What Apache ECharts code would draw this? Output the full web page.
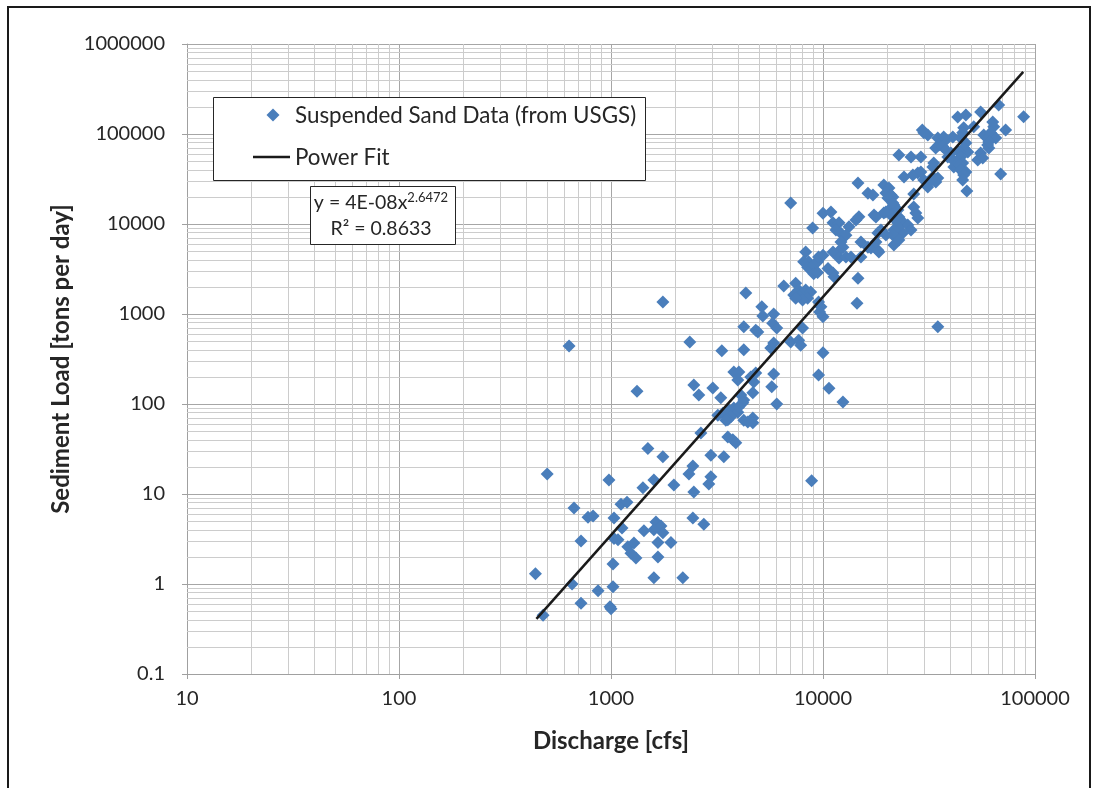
<!DOCTYPE html>
<html>
<head>
<meta charset="utf-8">
<script src="https://cdn.jsdelivr.net/npm/echarts@6/dist/echarts.min.js"></script>
<style>
html, body { margin: 0; padding: 0; background: #fff; }
#chart { width: 1097px; height: 788px; }
</style>
</head>
<body>
<div id="chart"></div>
<script>
// [discharge cfs, suspended sand load tons/day]
var sandPoints = [
  [440, 1.3], [478, 0.45], [500, 16.7], [634, 440], [655, 1.0], [669, 7.0], [722, 3.0], [722, 0.61],
  [779, 5.5], [823, 5.7], [869, 0.84], [978, 14.3], [989, 0.56], [1000, 0.53], [1022, 0.93], [1022, 1.67],
  [1033, 5.4], [1033, 3.2], [1079, 3.1], [1115, 7.7], [1190, 8.1], [1127, 4.2], [1200, 2.6], [1283, 2.85],
  [1311, 1.95], [1242, 2.2], [1326, 139], [1430, 3.9], [1415, 11.7],
  [1493, 32], [1593, 14.3], [1629, 4.9], [1720, 4.4], [1757, 3.7], [1665, 2.9], [1593, 4.0], [1917, 2.9],
  [1665, 2.0], [1593, 1.17], [1757, 1360], [1757, 26], [1980, 12.6], [2182, 1.17], [2353, 490], [2434, 20.5],
  [2332, 16.7], [2458, 10.5], [2434, 5.4], [2740, 4.6], [2458, 163], [2596, 126], [2654, 47.6],
  [2958, 27], [2958, 15.5], [2894, 12.9], [3022, 151], [3296, 117], [3332, 390], [3406, 26], [3369, 79],
  [3190, 75], [3598, 86], [3796, 90], [3964, 81], [3674, 72], [3557, 67], [3557, 43], [3755, 40],
  [3878, 37], [3796, 227], [4010, 227], [3964, 185], [4095, 126], [4230, 111], [4323, 1710], [4230, 720],
  [4230, 400], [4230, 66], [4665, 70], [4665, 62], [4418, 63], [4665, 133], [4563, 200], [4717, 176],
  [4818, 221], [4925, 630], [4818, 660], [4186, 103], [4010, 93], [3480, 66],
  [5145, 1200], [5200, 950], [5855, 1000], [5790, 790], [6050, 700], [5668, 420], [5855, 215], [5730, 155],
  [6050, 100], [6530, 2050], [7041, 17100], [7041, 490], [7680, 510], [7847, 450], [5855, 475], [7433, 2200],
  [7680, 1850], [7847, 1630], [7275, 1630], [8284, 1850], [8746, 1760], [8463, 1500], [8012, 1430], [7433, 1500],
  [8012, 700],
  [8284, 4900], [8105, 3800], [8551, 3800], [8463, 3300], [8746, 3100], [9040, 3500], [9040, 2800], [9430, 2900],
  [9430, 3800], [9530, 4300], [10000, 4500], [8936, 9000], [10000, 13200], [10900, 13600], [11150, 10300], [11900, 10300],
  [11510, 8600], [12150, 7900], [13260, 9300], [14300, 11100], [14770, 12000], [12830, 7500], [12150, 6300], [12420, 5500],
  [11770, 4900], [11150, 4900], [11900, 4200], [12830, 4300], [13550, 4300], [10560, 3200], [11150, 2850],
  [11270, 2600], [9780, 1200], [9530, 1360], [10000, 930], [9640, 1050], [10000, 370], [9530, 210], [10670, 150],
  [12420, 105], [8840, 14], [14470, 1320], [14620, 2500], [15100, 6300], [14620, 28600], [16290, 22000], [17200, 21000],
  [17400, 12600], [16290, 5500], [16830, 5400], [18150, 5100], [17770, 6300], [18760, 8600],
  [88400, 155000], [67400, 210000], [55400, 176000], [43200, 154500], [47200, 163000], [51400, 120000], [63200, 136000], [63900, 120000],
  [72700, 111000], [57300, 97500], [59800, 90000], [61700, 103000], [59800, 75500], [60600, 70000], [46100, 117000], [45600, 103000],
  [44600, 90000], [47200, 79400], [46100, 69800], [48200, 63100], [40950, 92600], [37960, 86000], [36740, 81300], [43700, 63100],
  [44600, 55500], [45600, 47600], [47200, 37800], [46100, 36800], [29900, 103000], [29400, 111000], [31220, 97500], [34800, 90000],
  [37100, 92600], [35200, 75500], [34000, 69800], [36700, 72600], [38000, 66300], [40100, 61500], [38800, 55500], [40950, 51400],
  [41400, 43000], [43700, 45300], [44600, 39800], [46100, 35000], [45600, 30800], [53700, 51400], [55400, 61500], [56700, 54200],
  [68900, 35900], [47700, 23300], [22800, 58300], [26000, 55500], [28960, 55500], [24100, 33300], [26540, 35000], [28000, 36800],
  [28960, 37800], [33300, 47600], [32960, 43000], [34800, 32400], [34050, 29300], [19360, 27100], [20460, 25100], [20920, 21000],
  [19800, 22100], [26800, 21500], [21600, 16300], [20460, 14300], [19360, 13250], [20920, 12600], [26800, 15450], [27400, 13250],
  [28000, 11660], [29900, 30900], [31200, 25800], [21360, 19950], [17770, 11960], [19800, 13600], [21600, 11660], [22800, 11960],
  [22550, 10260], [23800, 10500], [25100, 9770], [26000, 8600], [23800, 7940], [22550, 9260], [21600, 8600], [21360, 7550],
  [18150, 7940], [18350, 4880], [21600, 5830], [15100, 4300], [31550, 28600], [32960, 33300], [65300, 90000], [60500, 81300],
  [34800, 720], [20230, 19500], [21360, 17100], [22550, 14300], [22060, 11080], [19800, 7550], [22800, 6630]
];

// ends of the power fit line y = 4E-08 x^2.6472
var fitDischarge = [445, 88000];
var fitLoad = [0.41, 491000];

var xDecades = [10, 100, 1000, 10000, 100000];
var yDecades = [0.1, 1, 10, 100, 1000, 10000, 100000, 1000000];

var seriesNames = ['Suspended Sand Data (from USGS)', 'Power Fit'];

var font = 'Lato, "Liberation Sans", sans-serif';
var textColor = '#262626';
var sandColor = '#4a7ebb';
var fitColor = '#1a1a1a';

function minorValues (decades) {
  var out = [];
  for (var i = 0; i < decades.length - 1; i++) {
    for (var m = 2; m <= 9; m++) out.push(+(decades[i] * m).toPrecision(6));
  }
  return out;
}

function fmt (v) {
  return String(+Number(v).toPrecision(6));
}

var minorLines = [];
minorValues(xDecades).forEach(function (v) { minorLines.push({ xAxis: v }); });
minorValues(yDecades).forEach(function (v) { minorLines.push({ yAxis: v }); });

var chart = echarts.init(document.getElementById('chart'));

var option = {
  animation: false,
  textStyle: { fontFamily: font },
  grid: { left: 187, right: 62, top: 44, bottom: 114 },
  xAxis: {
    type: 'log',
    logBase: 10,
    min: xDecades[0],
    max: xDecades[xDecades.length - 1],
    splitNumber: 4,
    name: 'Discharge [cfs]',
    nameLocation: 'middle',
    nameGap: 55,
    nameTextStyle: { fontSize: 24, fontWeight: 'bold', color: textColor, fontFamily: font },
    axisLine: { lineStyle: { color: '#a0a0a0' } },
    axisTick: { length: 5, lineStyle: { color: '#a0a0a0' } },
    axisLabel: { fontSize: 20, color: textColor, margin: 15, formatter: fmt },
    splitLine: { lineStyle: { color: '#a6a6a6' } }
  },
  yAxis: {
    type: 'log',
    logBase: 10,
    min: yDecades[0],
    max: yDecades[yDecades.length - 1],
    splitNumber: 7,
    name: 'Sediment Load [tons per day]',
    nameLocation: 'middle',
    nameGap: 101,
    nameTextStyle: { fontSize: 24, fontWeight: 'bold', color: textColor, fontFamily: font },
    axisLine: { show: true, lineStyle: { color: '#a0a0a0' } },
    axisTick: { show: true, length: 5, lineStyle: { color: '#a0a0a0' } },
    axisLabel: { fontSize: 20, color: textColor, margin: 22, formatter: fmt },
    splitLine: { lineStyle: { color: '#a6a6a6' } }
  },
  series: [
    {
      name: 'minor grid',
      type: 'scatter',
      data: [],
      z: 1,
      silent: true,
      markLine: {
        z: 1,
        silent: true,
        animation: false,
        symbol: ['none', 'none'],
        label: { show: false },
        lineStyle: { color: '#cccccc', width: 1, type: 'solid' },
        emphasis: { disabled: true },
        data: minorLines
      }
    },
    {
      name: seriesNames[0],
      type: 'scatter',
      symbol: 'diamond',
      symbolSize: 13,
      z: 6,
      itemStyle: { color: sandColor, opacity: 1 },
      data: sandPoints
    },
    {
      name: seriesNames[1],
      type: 'line',
      symbol: 'none',
      showSymbol: false,
      z: 7,
      lineStyle: { color: fitColor, width: 2.5, type: 'solid' },
      data: fitDischarge.map(function (q, i) { return [q, fitLoad[i]]; })
    }
  ],
  graphic: [
    // legend box
    {
      type: 'rect',
      z: 100,
      shape: { x: 213.5, y: 97.5, width: 432, height: 83 },
      style: { fill: '#fff', stroke: textColor, lineWidth: 1 }
    },
    {
      type: 'polygon',
      z: 101,
      shape: { points: [[273, 108.5], [279.5, 115], [273, 121.5], [266.5, 115]] },
      style: { fill: sandColor }
    },
    {
      type: 'text',
      z: 101,
      x: 295,
      y: 116,
      style: { text: seriesNames[0], fontSize: 22.4, fontFamily: font, fill: textColor, verticalAlign: 'middle' }
    },
    {
      type: 'line',
      z: 101,
      shape: { x1: 253, y1: 157, x2: 290, y2: 157 },
      style: { stroke: fitColor, lineWidth: 2.5 }
    },
    {
      type: 'text',
      z: 101,
      x: 295,
      y: 158,
      style: { text: seriesNames[1], fontSize: 22.4, fontFamily: font, fill: textColor, verticalAlign: 'middle' }
    },
    // equation box
    {
      type: 'rect',
      z: 100,
      shape: { x: 310.5, y: 186.5, width: 145, height: 58 },
      style: { fill: '#fff', stroke: textColor, lineWidth: 1 }
    },
    {
      type: 'text',
      z: 101,
      x: 381,
      y: 203,
      style: {
        text: '{a|y = 4E-08x}{s|2.6472}',
        align: 'center',
        verticalAlign: 'middle',
        rich: {
          a: { fontSize: 19.5, fontFamily: font, fill: textColor },
          s: { fontSize: 13, fontFamily: font, fill: textColor, padding: [0, 0, 10, 0] }
        }
      }
    },
    {
      type: 'text',
      z: 101,
      x: 381,
      y: 229,
      style: {
        text: 'R² = 0.8633',
        align: 'center',
        verticalAlign: 'middle',
        fontSize: 19.5,
        fontFamily: font,
        fill: textColor
      }
    },
    // outer frame
    {
      type: 'rect',
      z: 100,
      silent: true,
      shape: { x: 8, y: 7, width: 1082, height: 800 },
      style: { fill: 'none', stroke: '#1a1a1a', lineWidth: 2 }
    }
  ]
};

chart.setOption(option);
</script>
</body>
</html>
